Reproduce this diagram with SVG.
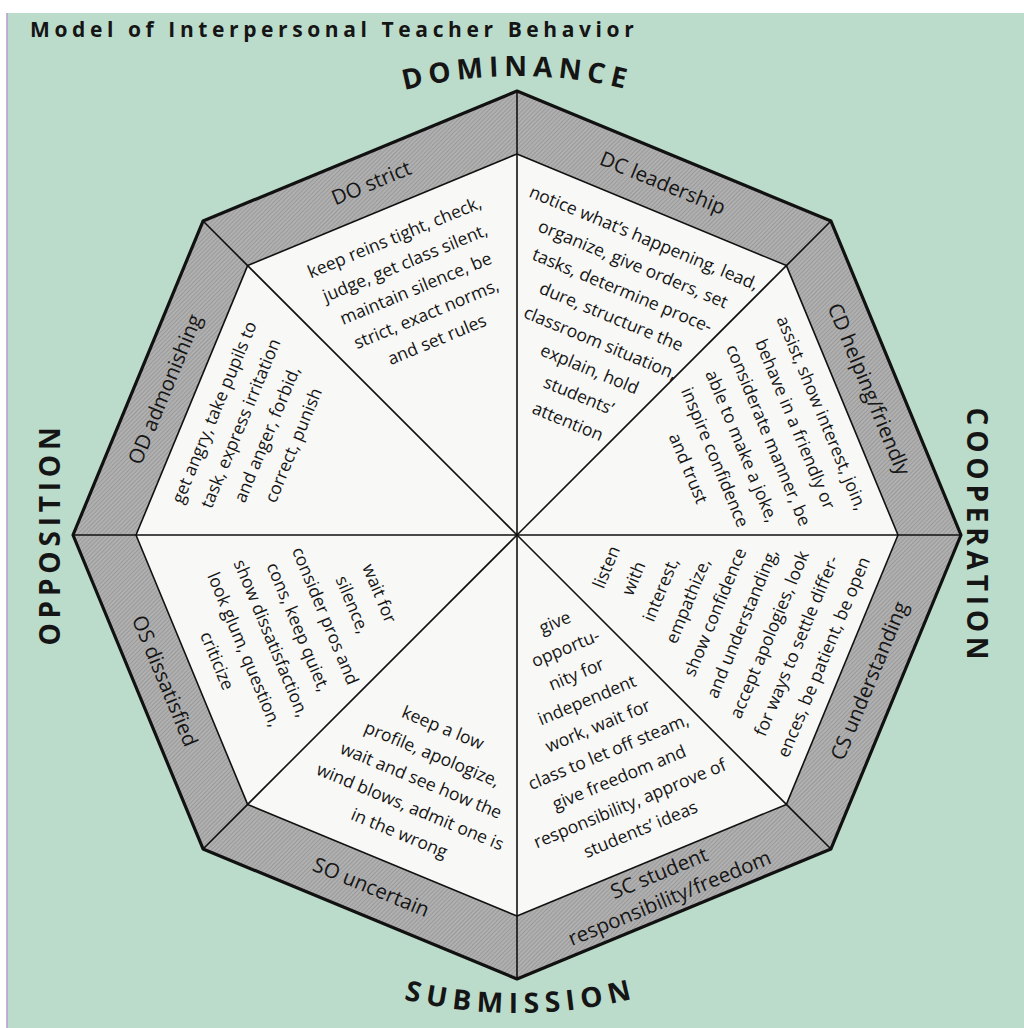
<svg xmlns="http://www.w3.org/2000/svg" width="1024" height="1028" viewBox="0 0 1024 1028">
  <defs>
    <style>
      text { font-family: 'Open Sans', 'Noto Sans', 'DejaVu Sans', sans-serif; fill: #151515; }
      .title { font-size: 21px; font-weight: 700; letter-spacing: 4.6px; }
      .axis { font-size: 28px; font-weight: 700; text-anchor: middle; }
      .lbl { font-size: 20.5px; text-anchor: middle; }
      .body { font-size: 17.5px; text-anchor: middle; }
      .band { fill: url(#hatch); }
      .face { fill: #f8f8f6; }
      .rim { fill: none; stroke: #111; stroke-width: 3.2; stroke-linejoin: round; }
      .inner { fill: none; stroke: #111; stroke-width: 1.6; stroke-linejoin: round; }
      .spoke { stroke: #111; stroke-width: 1.6; }
    </style>
    <pattern id="hatch" width="3" height="3" patternUnits="userSpaceOnUse" patternTransform="rotate(45)">
      <rect width="3" height="3" fill="#b0b0b0"/>
      <rect width="1" height="3" fill="#9a9a9a"/>
    </pattern>
    <path id="arcTop" d="M 222 183.4 A 459 459 0 0 1 812 183.4"/>
    <path id="arcBottom" d="M 209.7 901.1 A 478 478 0 0 0 824.3 901.1"/>
  </defs>

  <!-- page -->
  <rect width="1024" height="1028" fill="#ffffff"/>
  <rect x="7" y="13" width="1017" height="1015" fill="#bcdccb"/>
  <line x1="7" y1="13" x2="7" y2="1028" stroke="#b6a2cf" stroke-width="1.6"/>

  <text class="title" x="30" y="37">Model of Interpersonal Teacher Behavior</text>

  <!-- axis names -->
  <text class="axis" letter-spacing="5.6"><textPath href="#arcTop" startOffset="50%">DOMINANCE</textPath></text>
  <text class="axis" letter-spacing="6"><textPath href="#arcBottom" startOffset="50.6%">SUBMISSION</textPath></text>
  <text class="axis" letter-spacing="4.8" transform="translate(967,536) rotate(90)">COOPERATION</text>
  <text class="axis" letter-spacing="4.8" transform="translate(60,534) rotate(-90)">OPPOSITION</text>

  <!-- sectors: outer band + inner face, clockwise from the top -->
  <g id="sector-DO">
    <polygon class="band" points="203.04,221.04 517,91 517,154 247.6,265.6"/>
    <polygon class="face" points="517,535 247.6,265.6 517,154"/>
    <text class="lbl" transform="translate(371.2,182.9) rotate(-22.5)" dy=".35em">DO strict</text>
    <g transform="translate(418,294) rotate(-22.5)">
      <text class="body" y="-55.4">keep reins tight, check,</text>
      <text class="body" y="-27.7">judge, get class silent,</text>
      <text class="body" y="0">maintain silence, be</text>
      <text class="body" y="27.7">strict, exact norms,</text>
      <text class="body" y="55.4">and set rules</text>
    </g>
  </g>

  <g id="sector-DC">
    <polygon class="band" points="517,91 830.96,221.04 786.4,265.6 517,154"/>
    <polygon class="face" points="517,535 517,154 786.4,265.6"/>
    <text class="lbl" transform="translate(662.8,182.9) rotate(22.5)" dy=".35em">DC leadership</text>
    <g transform="translate(603.6,335.3) rotate(22.5)">
      <text class="body" y="-99.4">notice what’s happening, lead,</text>
      <text class="body" y="-71">organize, give orders, set</text>
      <text class="body" y="-42.6">tasks, determine proce-</text>
      <text class="body" y="-14.2">dure, structure the</text>
      <text class="body" y="14.2">classroom situation,</text>
      <text class="body" y="42.6">explain, hold</text>
      <text class="body" y="71">students’</text>
      <text class="body" y="99.4">attention</text>
    </g>
  </g>

  <g id="sector-CD">
    <polygon class="band" points="830.96,221.04 961,535 898,535 786.4,265.6"/>
    <polygon class="face" points="517,535 786.4,265.6 898,535"/>
    <text class="lbl" transform="translate(869.1,389.2) rotate(67.5)" dy=".35em">CD helping/friendly</text>
    <g transform="translate(749.5,443) rotate(67.5)">
      <text class="body" y="-72.25">assist, show interest, join,</text>
      <text class="body" y="-43.35">behave in a friendly or</text>
      <text class="body" y="-14.45">considerate manner, be</text>
      <text class="body" y="14.45">able to make a joke,</text>
      <text class="body" y="43.35">inspire confidence</text>
      <text class="body" y="72.25">and trust</text>
    </g>
  </g>

  <g id="sector-CS">
    <polygon class="band" points="961,535 830.96,848.96 786.4,804.4 898,535"/>
    <polygon class="face" points="517,535 898,535 786.4,804.4"/>
    <text class="lbl" transform="translate(869.1,680.8) rotate(-67.5)" dy=".35em">CS understanding</text>
    <g transform="translate(720.6,614.4) rotate(-67.5)">
      <text class="body" y="-117.6">listen</text>
      <text class="body" y="-88.2">with</text>
      <text class="body" y="-58.8">interest,</text>
      <text class="body" y="-29.4">empathize,</text>
      <text class="body" y="0">show confidence</text>
      <text class="body" y="29.4">and understanding,</text>
      <text class="body" y="58.8">accept apologies, look</text>
      <text class="body" y="88.2">for ways to settle differ-</text>
      <text class="body" y="117.6">ences, be patient, be open</text>
    </g>
  </g>

  <g id="sector-SC">
    <polygon class="band" points="830.96,848.96 517,979 517,916 786.4,804.4"/>
    <polygon class="face" points="517,535 786.4,804.4 517,916"/>
    <g transform="translate(662.8,887.1) rotate(-22.5)">
      <text class="lbl" x="2" y="-14.5" dy=".35em">SC student</text>
      <text class="lbl" x="2" y="12.5" dy=".35em">responsibility/freedom</text>
    </g>
    <g transform="translate(600,731.4) rotate(-22.5)">
      <text class="body" y="-112">give</text>
      <text class="body" y="-84">opportu-</text>
      <text class="body" y="-56">nity for</text>
      <text class="body" y="-28">independent</text>
      <text class="body" y="0">work, wait for</text>
      <text class="body" y="28">class to let off steam,</text>
      <text class="body" y="56">give freedom and</text>
      <text class="body" y="84">responsibility, approve of</text>
      <text class="body" y="112">students’ ideas</text>
    </g>
  </g>

  <g id="sector-SO">
    <polygon class="band" points="517,979 203.04,848.96 247.6,804.4 517,916"/>
    <polygon class="face" points="517,535 517,916 247.6,804.4"/>
    <text class="lbl" transform="translate(371.2,887.1) rotate(22.5)" dy=".35em">SO uncertain</text>
    <g transform="translate(418.8,786) rotate(22.5)">
      <text class="body" y="-57">keep a low</text>
      <text class="body" y="-28.5">profile, apologize,</text>
      <text class="body" y="0">wait and see how the</text>
      <text class="body" y="28.5">wind blows, admit one is</text>
      <text class="body" y="57">in the wrong</text>
    </g>
  </g>

  <g id="sector-OS">
    <polygon class="band" points="203.04,848.96 73,535 136,535 247.6,804.4"/>
    <polygon class="face" points="517,535 247.6,804.4 136,535"/>
    <text class="lbl" transform="translate(164.9,680.8) rotate(67.5)" dy=".35em">OS dissatisfied</text>
    <g transform="translate(292.7,629.4) rotate(67.5)">
      <text class="body" y="-87.9">wait for</text>
      <text class="body" y="-58.6">silence,</text>
      <text class="body" y="-29.3">consider pros and</text>
      <text class="body" y="0">cons, keep quiet,</text>
      <text class="body" y="29.3">show dissatisfaction,</text>
      <text class="body" y="58.6">look glum, question,</text>
      <text class="body" y="87.9">criticize</text>
    </g>
  </g>

  <g id="sector-OD">
    <polygon class="band" points="73,535 203.04,221.04 247.6,265.6 136,535"/>
    <polygon class="face" points="517,535 136,535 247.6,265.6"/>
    <text class="lbl" transform="translate(164.9,389.2) rotate(-67.5)" dy=".35em">OD admonishing</text>
    <g transform="translate(259.4,431.1) rotate(-67.5)">
      <text class="body" y="-42.9">get angry, take pupils to</text>
      <text class="body" y="-14.3">task, express irritation</text>
      <text class="body" y="14.3">and anger, forbid,</text>
      <text class="body" y="42.9">correct, punish</text>
    </g>
  </g>

  <!-- outlines and spokes -->
  <g id="connectors">
    <line class="spoke" x1="517" y1="535" x2="517" y2="91"/>
    <line class="spoke" x1="517" y1="535" x2="830.96" y2="221.04"/>
    <line class="spoke" x1="517" y1="535" x2="961" y2="535"/>
    <line class="spoke" x1="517" y1="535" x2="830.96" y2="848.96"/>
    <line class="spoke" x1="517" y1="535" x2="517" y2="979"/>
    <line class="spoke" x1="517" y1="535" x2="203.04" y2="848.96"/>
    <line class="spoke" x1="517" y1="535" x2="73" y2="535"/>
    <line class="spoke" x1="517" y1="535" x2="203.04" y2="221.04"/>
    <polygon class="inner" points="517,154 786.4,265.6 898,535 786.4,804.4 517,916 247.6,804.4 136,535 247.6,265.6"/>
    <polygon class="rim" points="517,91 830.96,221.04 961,535 830.96,848.96 517,979 203.04,848.96 73,535 203.04,221.04"/>
  </g>
</svg>
